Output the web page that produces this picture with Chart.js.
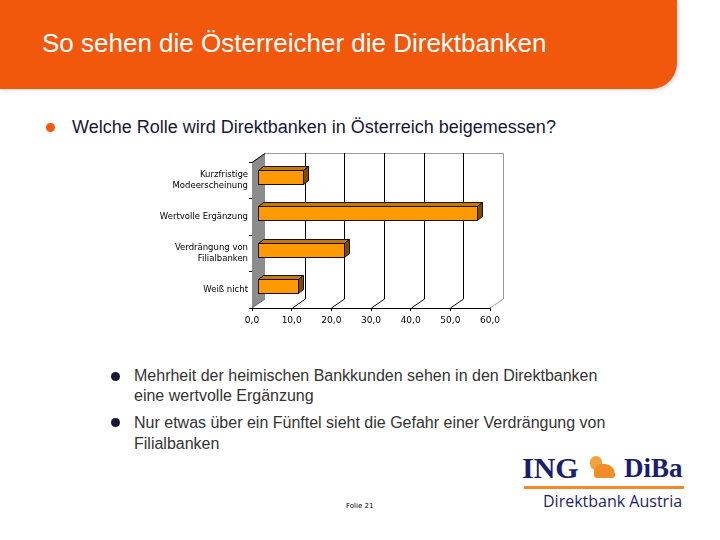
<!DOCTYPE html>
<html>
<head>
<meta charset="utf-8">
<script src="https://cdn.jsdelivr.net/npm/chart.js@4.4.1/dist/chart.umd.min.js"></script>
<style>
  html,body{margin:0;padding:0;background:#fff;}
  #page{position:relative;width:720px;height:540px;overflow:hidden;font-family:"Liberation Sans",Arial,sans-serif;}
  #header{position:absolute;left:0;top:0;width:677px;height:89px;background:#F2580C;border-bottom-right-radius:26px;box-shadow:2px 2px 3px rgba(0,0,0,0.12);}
  #title{position:absolute;left:42px;top:28px;color:#fff;font-size:26px;white-space:nowrap;}
  .txt{position:absolute;white-space:nowrap;color:#222;}
  .dot{position:absolute;width:9px;height:9px;border-radius:50%;}
  canvas{position:absolute;left:0;top:0;}
</style>
</head>
<body>
<div id="page">
  <div id="header"><div id="title">So sehen die Österreicher die Direktbanken</div></div>
  <div class="dot" style="left:46px;top:123px;background:#F05A0A;"></div>
  <div class="txt" style="left:72px;top:117px;font-size:18px;color:#141838;">Welche Rolle wird Direktbanken in Österreich beigemessen?</div>

  <div class="dot" style="left:111px;top:372px;background:#141838;"></div>
  <div class="txt" style="left:134px;top:366px;font-size:16px;line-height:20px;color:#333;">Mehrheit der heimischen Bankkunden sehen in den Direktbanken<br>eine wertvolle Ergänzung</div>
  <div class="dot" style="left:111px;top:418px;background:#141838;"></div>
  <div class="txt" style="left:134px;top:412px;font-size:16px;line-height:21px;color:#333;">Nur etwas über ein Fünftel sieht die Gefahr einer Verdrängung von<br>Filialbanken</div>

  <div class="txt" style="left:346px;top:502px;font-size:7px;color:#000;font-family:'DejaVu Sans',sans-serif;">Folie 21</div>

  <div class="txt" style="left:522px;top:451px;font-size:30px;font-weight:bold;color:#1B1F6B;font-family:'Liberation Serif',serif;">ING</div>
  <div style="position:absolute;left:590px;top:456px;width:12px;height:14px;background:#F2A040;border-radius:6px;"></div>
  <div style="position:absolute;left:594px;top:464px;width:21px;height:14px;background:#F28C28;border-radius:8px 10px 3px 3px;"></div>
  <div class="txt" style="left:624px;top:453px;font-size:27px;font-weight:bold;color:#1B1F6B;font-family:'Liberation Serif',serif;">DiBa</div>
  <div style="position:absolute;left:524px;top:486px;width:160px;height:3px;background:#F28C28;"></div>
  <div class="txt" style="left:543px;top:490px;font-size:16px;color:#1B1F6B;font-family:'Open Sans',sans-serif;">Direktbank Austria</div>

  <canvas id="c" width="720" height="540"></canvas>
</div>
<script>
const categories = [["Kurzfristige","Modeerscheinung"], "Wertvolle Ergänzung", ["Verdrängung von","Filialbanken"], "Weiß nicht"];
const values = [11.7, 55.4, 22.0, 10.4];
const tickLabels = ["0,0","10,0","20,0","30,0","40,0","50,0","60,0"];

const DX = 13, DY = -9;       // chart depth
const BX = 5, BY = -3.5;      // bar front offset
const BDX = 5, BDY = -4;      // bar depth

const threeD = {
  id: 'threeD',
  beforeDatasetsDraw(chart) {
    const ctx = chart.ctx, a = chart.chartArea, xs = chart.scales.x;
    ctx.save();
    ctx.fillStyle = '#8c8c8c';
    ctx.beginPath();
    ctx.moveTo(a.left, a.top); ctx.lineTo(a.left+DX, a.top+DY);
    ctx.lineTo(a.left+DX, a.bottom+DY); ctx.lineTo(a.left, a.bottom); ctx.closePath();
    ctx.fill();
    ctx.strokeStyle = '#000'; ctx.lineWidth = 1;
    ctx.beginPath(); ctx.moveTo(a.left, a.top+0.5); ctx.lineTo(a.left+DX, a.top+DY+0.5); ctx.stroke();
    ctx.strokeStyle = '#9a9a9a';
    ctx.beginPath();
    ctx.moveTo(a.left+DX, a.top+DY+0.5); ctx.lineTo(a.right+DX+0.5, a.top+DY+0.5);
    ctx.lineTo(a.right+DX+0.5, a.bottom+DY); ctx.lineTo(a.right, a.bottom);
    ctx.stroke();
    ctx.strokeStyle = '#000';
    for (let i = 1; i < tickLabels.length - 1; i++) {
      const px = Math.round(xs.getPixelForValue(i*10)) + 0.5;
      ctx.beginPath();
      ctx.moveTo(px+DX, a.top+DY); ctx.lineTo(px+DX, a.bottom+DY);
      ctx.lineTo(px, a.bottom);
      ctx.stroke();
    }
    ctx.strokeStyle = '#666';
    ctx.beginPath(); ctx.moveTo(a.left+DX, a.bottom+DY); ctx.lineTo(a.left, a.bottom); ctx.stroke();
    ctx.restore();
  },
  afterDatasetsDraw(chart) {
    const ctx = chart.ctx;
    const meta = chart.getDatasetMeta(0);
    ctx.save();
    ctx.lineWidth = 1; ctx.strokeStyle = '#1a1000';
    meta.data.forEach(el => {
      const x0 = Math.round(el.base + BX) + 0.5;
      const x1 = Math.round(el.x + BX) + 0.5;
      const yT = Math.round(el.y - el.height/2 + BY) + 0.5;
      const yB = Math.round(el.y + el.height/2 + BY) + 0.5;
      ctx.fillStyle = '#C07A10';
      ctx.beginPath(); ctx.moveTo(x0,yT); ctx.lineTo(x0+BDX,yT+BDY); ctx.lineTo(x1+BDX,yT+BDY); ctx.lineTo(x1,yT); ctx.closePath(); ctx.fill(); ctx.stroke();
      ctx.fillStyle = '#7A4A08';
      ctx.beginPath(); ctx.moveTo(x1,yT); ctx.lineTo(x1+BDX,yT+BDY); ctx.lineTo(x1+BDX,yB+BDY); ctx.lineTo(x1,yB); ctx.closePath(); ctx.fill(); ctx.stroke();
      ctx.fillStyle = '#FF9900';
      ctx.fillRect(x0, yT, x1-x0, yB-yT); ctx.strokeRect(x0, yT, x1-x0, yB-yT);
    });
    ctx.restore();
  }
};

new Chart(document.getElementById('c'), {
  type: 'bar',
  data: {
    labels: categories,
    datasets: [{ data: values, backgroundColor: 'rgba(0,0,0,0)', borderWidth: 0, barPercentage: 0.38, categoryPercentage: 1 }]
  },
  options: {
    indexAxis: 'y',
    responsive: false,
    animation: false,
    events: [],
    layout: { padding: { left: 152, right: 230, top: 162, bottom: 212 } },
    plugins: { legend: { display: false }, tooltip: { enabled: false } },
    scales: {
      x: {
        min: 0, max: 60,
        afterFit(s) { s.height = 20; },
        ticks: { stepSize: 10, color: '#000', font: { family: 'DejaVu Sans', size: 9 }, padding: 4,
                 callback: (v, i) => tickLabels[i] },
        grid: { drawOnChartArea: false, tickLength: 3, color: '#000' },
        border: { display: true, color: '#000' }
      },
      y: {
        afterFit(s) { s.width = 100; },
        ticks: { color: '#000', font: { family: 'DejaVu Sans', size: 8.5 }, padding: 1 },
        grid: { drawOnChartArea: false, tickLength: 3, color: '#000', offset: true },
        border: { display: true, color: '#000' }
      }
    }
  },
  plugins: [threeD]
});
</script>
</body>
</html>
